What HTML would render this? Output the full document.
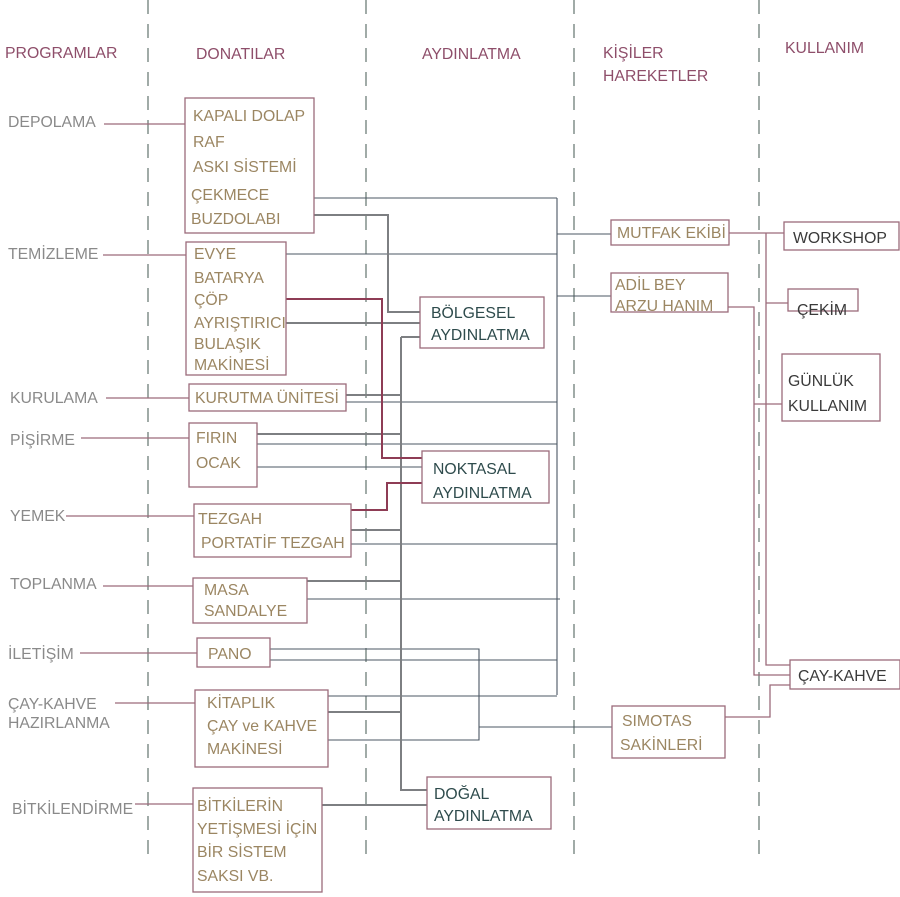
<!DOCTYPE html>
<html><head><meta charset="utf-8"><style>
html,body{margin:0;padding:0;background:#fff;}
svg{display:block;}
text{font-family:"Liberation Sans",sans-serif;font-size:15.8px;}
.h{fill:#8e4e6a;}
.p{fill:#8a8a8a;}
.d{fill:#9b8662;}
.a{fill:#2e4b4c;}
.k{fill:#3a3a3a;}
.b{fill:none;stroke:#9c6b7b;stroke-width:1.3;}
.m{stroke:#9c6b7b;stroke-width:1.3;fill:none;}
.t{stroke:#4b5763;stroke-width:1.1;fill:none;}
.g{stroke:#7d7f82;stroke-width:2;fill:none;}
.r{stroke:#8e3c55;stroke-width:2;fill:none;}
.dash{stroke:#6e7e78;stroke-width:1.3;stroke-dasharray:14 10;}
</style></head><body>
<svg width="900" height="897" viewBox="0 0 900 897">
<line class="dash" x1="148" y1="0" x2="148" y2="855"/>
<line class="dash" x1="366" y1="0" x2="366" y2="855"/>
<line class="dash" x1="574" y1="0" x2="574" y2="855"/>
<line class="dash" x1="759" y1="0" x2="759" y2="855"/>

<text class="h" x="5" y="58">PROGRAMLAR</text>
<text class="h" x="196" y="59">DONATILAR</text>
<text class="h" x="422" y="59">AYDINLATMA</text>
<text class="h" x="603" y="58">KİŞİLER</text>
<text class="h" x="603" y="81">HAREKETLER</text>
<text class="h" x="785" y="53">KULLANIM</text>

<text class="p" x="8" y="127">DEPOLAMA</text>
<text class="p" x="8" y="259">TEMİZLEME</text>
<text class="p" x="10" y="403">KURULAMA</text>
<text class="p" x="10" y="445">PİŞİRME</text>
<text class="p" x="10" y="521">YEMEK</text>
<text class="p" x="10" y="589">TOPLANMA</text>
<text class="p" x="8" y="659">İLETİŞİM</text>
<text class="p" x="8" y="709">ÇAY-KAHVE</text>
<text class="p" x="8" y="728">HAZIRLANMA</text>
<text class="p" x="12" y="814">BİTKİLENDİRME</text>

<g class="m">
<path d="M104 124H185M103 255H186M106 398H189M81 438H189M66 516H194M103 586H193M80 653H197M115 703H195M135 804H193"/>
</g>

<g class="t">
<path d="M557 198V695M314 198H557M286 254H557M346 402H557M257 444H557M351 544H557M307 599H560M270 660H557M328 696H557M557 234H611M557 296H611"/>
<path d="M270 649H479V740H328M479 727H612M257 467H422"/>
</g>
<g class="g">
<path d="M401 337V790H427M401 337H420M346 395H401M257 434H401M351 530H401M307 581H401M328 712H401"/>
<path d="M314 215H388V312H420M286 323H420M322 805H427"/>
</g>
<g class="r">
<path d="M286 299H382V458H422M351 510H387V483H422"/>
</g>

<g class="m">
<path d="M729 233H784M766 233V665H790M766 303H788M728 307H754V675H790M754 404H782M725 717H770V685H790"/>
</g>

<g>
<rect class="b" x="185" y="98" width="129" height="135" fill="#fff"/>
<rect class="b" x="186" y="242" width="100" height="133" fill="#fff"/>
<rect class="b" x="189" y="384" width="157" height="27" fill="#fff"/>
<rect class="b" x="189" y="423" width="68" height="64" fill="#fff"/>
<rect class="b" x="194" y="504" width="157" height="53" fill="#fff"/>
<rect class="b" x="193" y="578" width="114" height="45" fill="#fff"/>
<rect class="b" x="197" y="638" width="73" height="29" fill="#fff"/>
<rect class="b" x="195" y="690" width="133" height="77" fill="#fff"/>
<rect class="b" x="193" y="788" width="129" height="104" fill="#fff"/>
<rect class="b" x="420" y="297" width="124" height="51" fill="#fff"/>
<rect class="b" x="422" y="451" width="127" height="52" fill="#fff"/>
<rect class="b" x="427" y="777" width="124" height="52" fill="#fff"/>
<rect class="b" x="611" y="220" width="118" height="25" fill="#fff"/>
<rect class="b" x="611" y="273" width="117" height="39" fill="#fff"/>
<rect class="b" x="612" y="706" width="113" height="52" fill="#fff"/>
<rect class="b" x="784" y="222" width="115" height="28" fill="#fff"/>
<rect class="b" x="788" y="289" width="70" height="22" fill="#fff"/>
<rect class="b" x="782" y="354" width="98" height="67" fill="#fff"/>
<rect class="b" x="790" y="660" width="110" height="29" fill="#fff"/>
</g>

<g class="d">
<text x="193" y="121">KAPALI DOLAP</text>
<text x="193" y="147">RAF</text>
<text x="193" y="172">ASKI SİSTEMİ</text>
<text x="191" y="200">ÇEKMECE</text>
<text x="191" y="224">BUZDOLABI</text>
<text x="194" y="259">EVYE</text>
<text x="194" y="283">BATARYA</text>
<text x="194" y="305">ÇÖP</text>
<text x="194" y="328">AYRIŞTIRICI</text>
<text x="194" y="349">BULAŞIK</text>
<text x="194" y="370">MAKİNESİ</text>
<text x="195" y="403">KURUTMA ÜNİTESİ</text>
<text x="196" y="443">FIRIN</text>
<text x="196" y="468">OCAK</text>
<text x="198" y="524">TEZGAH</text>
<text x="201" y="548">PORTATİF TEZGAH</text>
<text x="204" y="595">MASA</text>
<text x="204" y="616">SANDALYE</text>
<text x="208" y="659">PANO</text>
<text x="207" y="708">KİTAPLIK</text>
<text x="207" y="731">ÇAY ve KAHVE</text>
<text x="207" y="754">MAKİNESİ</text>
<text x="197" y="811">BİTKİLERİN</text>
<text x="197" y="834">YETİŞMESİ İÇİN</text>
<text x="197" y="857">BİR SİSTEM</text>
<text x="197" y="881">SAKSI VB.</text>
<text x="617" y="238">MUTFAK EKİBİ</text>
<text x="615" y="290">ADİL BEY</text>
<text x="615" y="311">ARZU HANIM</text>
<text x="622" y="726">SIMOTAS</text>
<text x="620" y="750">SAKİNLERİ</text>
</g>
<g class="a">
<text x="431" y="318">BÖLGESEL</text>
<text x="431" y="340">AYDINLATMA</text>
<text x="433" y="474">NOKTASAL</text>
<text x="433" y="498">AYDINLATMA</text>
<text x="434" y="799">DOĞAL</text>
<text x="434" y="821">AYDINLATMA</text>
</g>
<g class="k">
<text x="793" y="243">WORKSHOP</text>
<text x="797" y="315">ÇEKİM</text>
<text x="788" y="386">GÜNLÜK</text>
<text x="788" y="411">KULLANIM</text>
<text x="798" y="681">ÇAY-KAHVE</text>
</g>
</svg>
</body></html>
